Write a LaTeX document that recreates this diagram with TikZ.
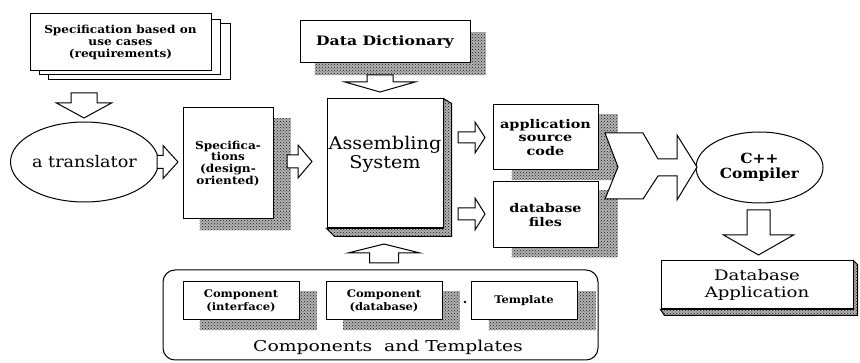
\documentclass[tikz,border=0pt]{standalone}
\usepackage{fontspec}
\setmainfont{DejaVu Serif}
\newfontfamily\wideA[FakeStretch=1.1]{DejaVu Serif}
\newfontfamily\wideB[FakeStretch=1.2]{DejaVu Serif}
\newfontfamily\wideC[FakeStretch=1.25]{DejaVu Serif}
\usetikzlibrary{shapes.geometric,patterns,backgrounds,calc}
\newcommand{\blockR}[6]{% x1 x2 y shaft-half head-half head-length
  \draw[barrow] (#1,#3-#4) -- (#2-#6,#3-#4) -- (#2-#6,#3-#5) -- (#2,#3) -- (#2-#6,#3+#5) -- (#2-#6,#3+#4) -- (#1,#3+#4) -- cycle;}
\newcommand{\blockD}[6]{% x y1 y2 shaft-half head-half head-length
  \draw[barrow] (#1-#4,#2) -- (#1-#4,#3-#6) -- (#1-#5,#3-#6) -- (#1,#3) -- (#1+#5,#3-#6) -- (#1+#4,#3-#6) -- (#1+#4,#2) -- cycle;}
\begin{document}
\begin{tikzpicture}[x=1pt,y=-1pt,
  box/.style={draw, line width=1pt, fill=white, align=center, inner sep=0pt},
  shade/.style={preaction={fill=black!30}, pattern=crosshatch dots, pattern color=black!90},
  barrow/.style={draw, line width=1pt, fill=white, line join=miter},
  oval/.style={draw, ellipse, line width=1pt, fill=white, align=center, inner sep=0pt},
]
\useasboundingbox (0,0) rectangle (860,363);

% stacked requirement sheets
\node[box, minimum width=182, minimum height=56] (req3) at (139,52) {};
\node[box, minimum width=181, minimum height=55] (req2) at (129.5,47.5) {};
\node[box, minimum width=181, minimum height=57, font=\wideA\bfseries\fontsize{11}{12}\selectfont] (req) at (120.5,42.5) {Specification based on\\use cases\\(requirements)};

% translator
\node[oval, minimum width=145, minimum height=80, font=\wideA\fontsize{16}{18}\selectfont] (tr) at (84.5,162) {a translator};

% specifications
\node[box, minimum width=90, minimum height=111, font=\wideA\bfseries\fontsize{11}{11.8}\selectfont] (spec) at (228,163.5) {Specifica-\\tions\\(design-\\oriented)};

% data dictionary
\node[box, minimum width=170, minimum height=42, font=\wideB\bfseries\fontsize{13}{14}\selectfont] (dd) at (385,42) {Data Dictionary};

% assembling system
\node[box, minimum width=116, minimum height=129, font=\wideA\fontsize{17.5}{19}\selectfont] (asm) at (385,163.5) {Assembling\\System\\[3pt]};
\draw[line width=1pt, shade] (asm.north east) -- ++(8,5) -- ($(asm.south east)+(8,8)$) -- ($(asm.south west)+(8,8)$) -- (asm.south west) -- (asm.south east) -- cycle;

% outputs
\node[box, minimum width=105, minimum height=65, font=\wideB\bfseries\fontsize{12}{13.5}\selectfont] (app) at (545.5,137.5) {application\\source\\code};
\node[box, minimum width=105, minimum height=66, font=\wideB\bfseries\fontsize{12}{14}\selectfont] (dbf) at (545.5,215) {database\\files};

% compiler
\node[oval, minimum width=127, minimum height=71, font=\wideA\bfseries\fontsize{14}{15}\selectfont] (cpp) at (759.5,167.5) {C++\\Compiler};

% database application
\node[box, minimum width=192, minimum height=48, font=\wideC\fontsize{14.5}{17}\selectfont] (dbapp) at (757,285) {Database\\Application};
\draw[line width=1pt, shade] (dbapp.north east) -- ++(4,4) -- ($(dbapp.south east)+(4,6)$) -- ($(dbapp.south west)+(4,6)$) -- (dbapp.south west) -- (dbapp.south east) -- cycle;

% components and templates
\node[draw, rounded corners=12, line width=1pt, minimum width=435, minimum height=90] (comps) at (380.5,315) {};
\node[font=\wideC\fontsize{15}{18}\selectfont, inner sep=0pt] (compt) at (388,347) {Components\ \ and Templates};
\node[box, minimum width=116, minimum height=38, font=\wideA\bfseries\fontsize{10.5}{13.5}\selectfont] (ci) at (241,301) {Component\\(interface)};
\node[box, minimum width=116, minimum height=38, font=\wideA\bfseries\fontsize{10.5}{13.5}\selectfont] (cd) at (384,301) {Component\\(database)};
\node[box, minimum width=106, minimum height=38, font=\wideA\bfseries\fontsize{10.5}{13.5}\selectfont] (tp) at (524,301) {Template};
\node[circle, fill, inner sep=0.9pt] (dot) at (465,302) {};

% shadows
\begin{pgfonlayer}{background}
  \foreach \n/\dx/\dy in {spec/17/11, dd/15/12, app/19/10, dbf/19/9, ci/17/10, cd/17/10, tp/18/10}
    \fill[shade] ($(\n.north west)+(\dx,\dy)$) rectangle ($(\n.south east)+(\dx,\dy)$);
\end{pgfonlayer}

% block arrows
\blockD{84}{93}{118}{13}{27.5}{15}
\blockR{157}{178}{162}{6.5}{16.5}{15}
\blockR{287}{312}{161.5}{6.5}{16.5}{14}
\blockD{380}{75}{92}{13}{35}{10}
\blockD{384}{263}{244}{14.5}{36}{-9}
\blockR{458}{485}{137.5}{5.5}{15.5}{10}
\blockR{458}{485}{214}{6}{16}{10}
\blockD{758.5}{210}{255}{11.5}{35}{20}

% merging chevron arrow
\draw[barrow] (605,133) -- (643,133) -- (658,159) -- (677,159) -- (677,135) -- (697,167) -- (677,200) -- (677,176) -- (658,176) -- (643,199) -- (605,199) -- (618,167) -- cycle;
\end{tikzpicture}
\end{document}
